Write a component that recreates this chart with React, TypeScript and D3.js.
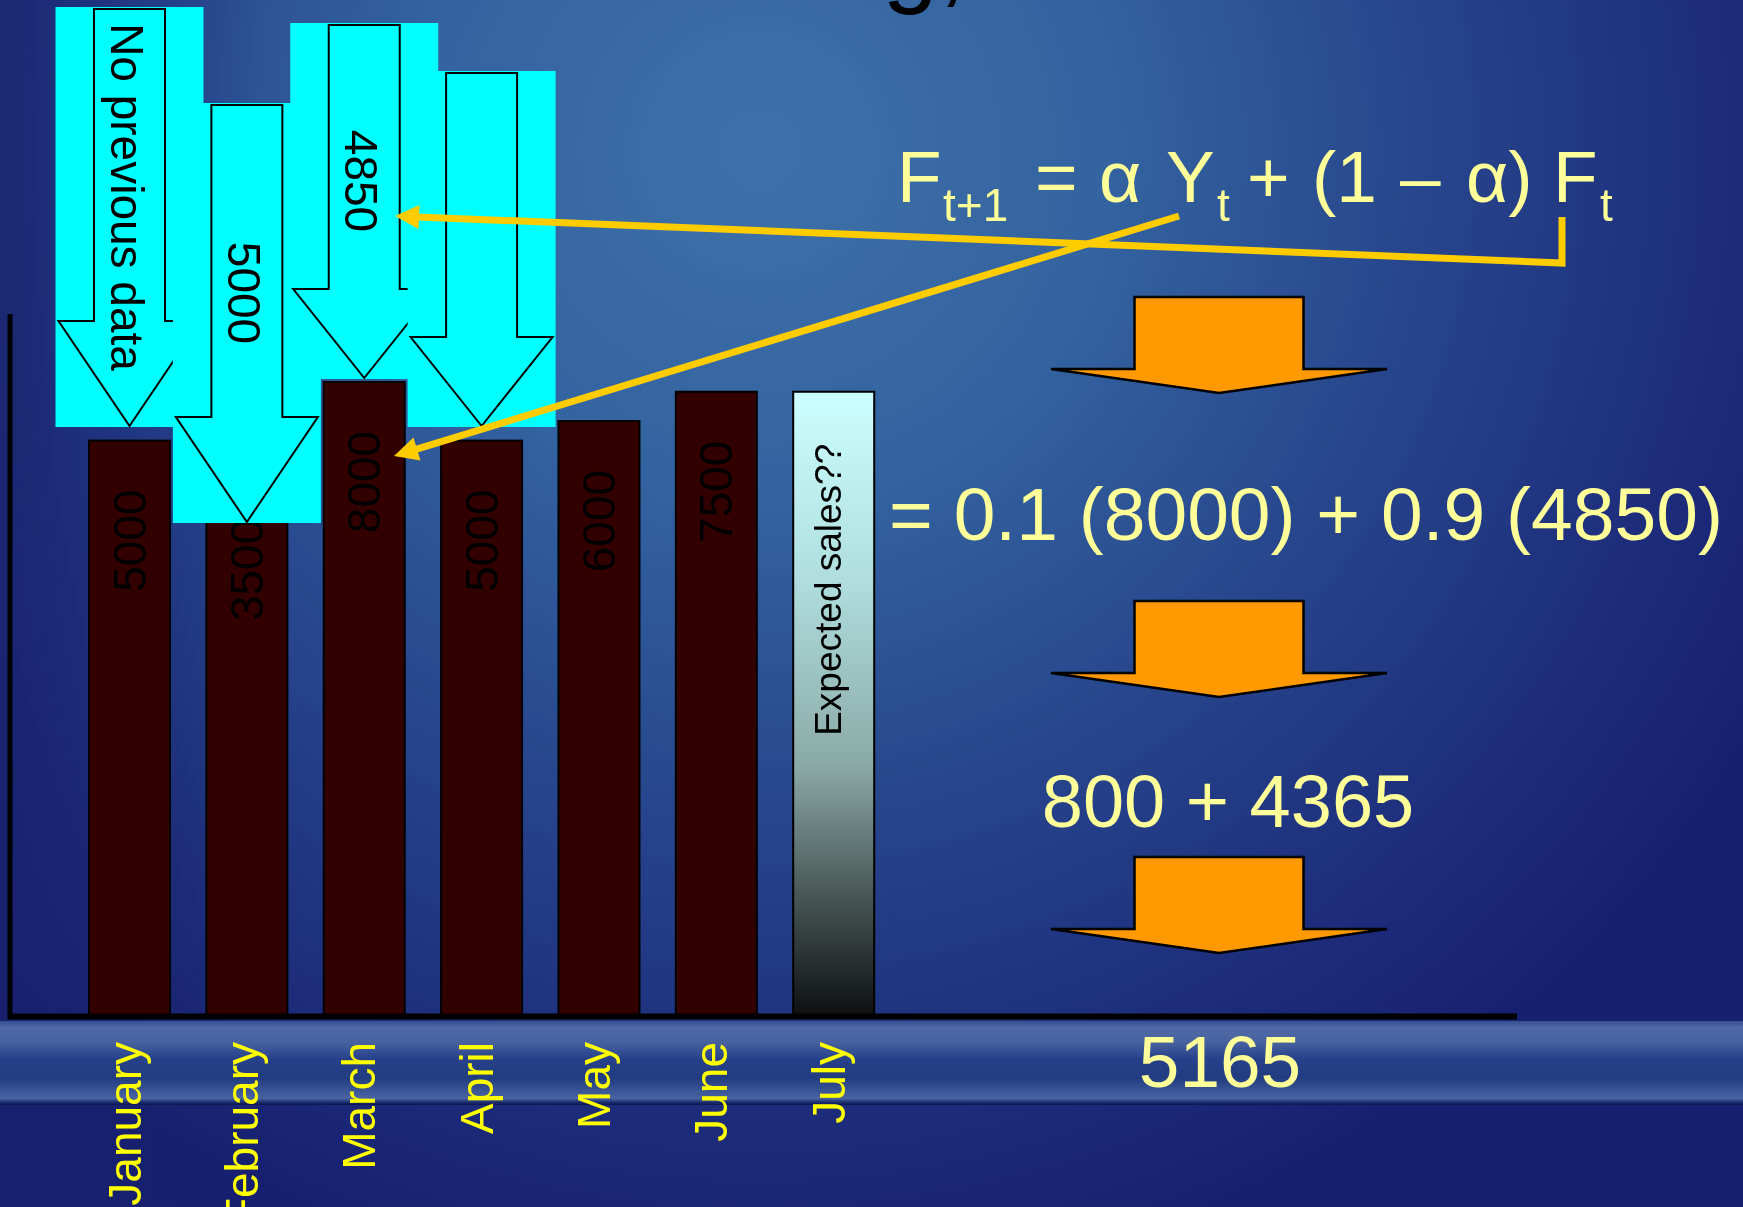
import React, { useEffect } from "react";
import * as d3 from "d3";

// ---------- data ----------
const months = ["January", "February", "March", "April", "May", "June", "July"];
const salesMonths = ["January", "February", "March", "April", "May", "June"];
const sales = [5000, 3500, 8000, 5000, 6000, 7500];
const expectedMonth = "July";
const expectedPlaceholder = 7500;
const expectedLabel = "Expected sales??";
const forecastMonths = ["January", "February", "March", "April"];
const forecastLabels = ["No previous data", "5000", "4850", ""];
const calcSteps = ["= 0.1 (8000) + 0.9 (4850)", "800 + 4365", "5165"];
const titleText = "Smoothing,";

// ---------- layout ----------
const W = 1743;
const H = 1207;
const FONT = "'Liberation Sans', Arial, Helvetica, sans-serif";
const BASE_Y = 1015;
const BAR_W = 81;
const BOX_TOP = [7, 103, 23, 71];
const BOX_BOTTOM = [427, 523, 379, 427];
const ORANGE_TOP = [297, 601, 857];
const YELLOW = "#ffcc00";
const TEXT_Y = "#ffff99";

function headPoly(fx: number, fy: number, tx: number, ty: number, len: number, hw: number) {
  const dx = tx - fx, dy = ty - fy;
  const L = Math.hypot(dx, dy);
  const ux = dx / L, uy = dy / L;
  const bx = tx - ux * len, by = ty - uy * len;
  const px = -uy, py = ux;
  return {
    pts: `${tx},${ty} ${bx + px * hw},${by + py * hw} ${bx - px * hw},${by - py * hw}`,
    bx: tx - ux * (len - 2),
    by: ty - uy * (len - 2),
  };
}

export default function App() {
  useEffect(() => {
    document.body.style.margin = "0";
    document.body.style.overflow = "hidden";
  }, []);

  const x = d3.scalePoint<string>().domain(months).range([129.5, 833.7]);
  const y = d3.scaleLinear().domain([-24400, 8000]).range([BASE_Y, 382]);

  // yellow arrows
  const aStart: [number, number] = [1562, 217];
  const aCorner: [number, number] = [1562, 263];
  const aTip: [number, number] = [395, 216];
  const hA = headPoly(aCorner[0], aCorner[1], aTip[0], aTip[1], 24, 12);
  const bStart: [number, number] = [1179, 216];
  const bTip: [number, number] = [394, 456];
  const hB = headPoly(bStart[0], bStart[1], bTip[0], bTip[1], 24, 12);

  return (
    <svg
      width={W}
      height={H}
      viewBox={`0 0 ${W} ${H}`}
      style={{ position: "fixed", left: 0, top: 0, display: "block" }}
      fontFamily={FONT}
    >
      <defs>
        <radialGradient id="bg" gradientUnits="userSpaceOnUse" cx={760} cy={150} r={1150}>
          <stop offset="0" stopColor="#3e71a9" />
          <stop offset="0.3" stopColor="#3363a0" />
          <stop offset="0.6" stopColor="#26438b" />
          <stop offset="0.85" stopColor="#1c2b7a" />
          <stop offset="1" stopColor="#172070" />
        </radialGradient>
        <linearGradient id="leftShade" x1="0" x2="1" y1="0" y2="0">
          <stop offset="0" stopColor="#18216e" stopOpacity="0.75" />
          <stop offset="1" stopColor="#18216e" stopOpacity="0" />
        </linearGradient>
        <linearGradient id="band" x1="0" x2="0" y1="0" y2="1">
          <stop offset="0" stopColor="#34508f" />
          <stop offset="0.08" stopColor="#5068a6" />
          <stop offset="0.25" stopColor="#4862a0" />
          <stop offset="0.45" stopColor="#26418a" />
          <stop offset="0.68" stopColor="#213c80" />
          <stop offset="0.84" stopColor="#3c5797" />
          <stop offset="0.92" stopColor="#4a64a2" />
          <stop offset="0.97" stopColor="#1a2b6c" />
          <stop offset="1" stopColor="#0b1450" />
        </linearGradient>
        <linearGradient id="july" x1="0" x2="0" y1="0" y2="1">
          <stop offset="0" stopColor="#ccffff" />
          <stop offset="0.3" stopColor="#b0dede" />
          <stop offset="0.6" stopColor="#8aa9a6" />
          <stop offset="0.8" stopColor="#4a5a58" />
          <stop offset="1" stopColor="#0e1010" />
        </linearGradient>
      </defs>

      {/* background */}
      <rect x={0} y={0} width={W} height={H} fill="url(#bg)" />
      <rect x={0} y={0} width={260} height={H} fill="url(#leftShade)" />
      <rect x={0} y={1021} width={W} height={84} fill="url(#band)" />

      {/* title fragment (mostly above the frame) */}
      <text x={966} y={-6} fontSize={100} textAnchor="end" fill="#000">
        {titleText}
      </text>

      {/* sales bars */}
      {salesMonths.map((m, i) => (
        <g key={m}>
          <rect
            x={(x(m) as number) - BAR_W / 2}
            y={y(sales[i])}
            width={BAR_W}
            height={BASE_Y - y(sales[i])}
            fill="#330000"
            stroke="#000"
            strokeWidth={2}
          />
          <text
            transform={`translate(${x(m)},${y(sales[i]) + 100}) rotate(-90)`}
            textAnchor="middle"
            dominantBaseline="central"
            fontSize={46}
            fill="#000"
          >
            {String(sales[i])}
          </text>
        </g>
      ))}

      {/* expected bar */}
      <rect
        x={(x(expectedMonth) as number) - BAR_W / 2}
        y={y(expectedPlaceholder)}
        width={BAR_W}
        height={BASE_Y - y(expectedPlaceholder)}
        fill="url(#july)"
        stroke="#000"
        strokeWidth={2}
      />
      <text
        transform={`translate(${(x(expectedMonth) as number) - 5},${y(expectedPlaceholder) + 198}) rotate(-90)`}
        textAnchor="middle"
        dominantBaseline="central"
        fontSize={37}
        fill="#000"
      >
        {expectedLabel}
      </text>

      {/* axes */}
      <line x1={10} x2={10} y1={314} y2={1019} stroke="#000" strokeWidth={5} />
      <line x1={8} x2={1517} y1={1016.5} y2={1016.5} stroke="#000" strokeWidth={6} />

      {/* forecast boxes with down arrows */}
      {forecastMonths.map((m, i) => {
        const cx = x(m) as number;
        const top = BOX_TOP[i];
        const bot = BOX_BOTTOM[i];
        const sTop = top + 2;
        const tip = bot - 1;
        const hTop = tip - 0.25 * (bot - top);
        const sw = 35.5;
        const hw = 71;
        const d = `M${cx - sw},${sTop} H${cx + sw} V${hTop} H${cx + hw} L${cx},${tip} L${cx - hw},${hTop} H${cx - sw} Z`;
        const textCy = (top + bot) / 2 - 20;
        return (
          <g key={m}>
            <rect x={cx - 74} y={top} width={148} height={bot - top} fill="#00ffff" />
            <path d={d} fill="none" stroke="#000" strokeWidth={2} />
            {forecastLabels[i] && (
              <text
                transform={`translate(${cx - 3},${textCy}) rotate(90)`}
                textAnchor="middle"
                dominantBaseline="central"
                fontSize={46}
                fill="#000"
              >
                {forecastLabels[i]}
              </text>
            )}
          </g>
        );
      })}

      {/* month labels */}
      {months.map((m) => (
        <text
          key={m}
          transform={`translate(${(x(m) as number) - 5},1042) rotate(-90)`}
          textAnchor="end"
          dominantBaseline="central"
          fontSize={46}
          fill="#ffff00"
        >
          {m}
        </text>
      ))}

      {/* formula */}
      <text y={202} fontSize={73} fill={TEXT_Y}>
        <tspan x={897}>F</tspan>
        <tspan x={943} dy={19} fontSize={46}>t+1</tspan>
        <tspan x={1035} dy={-19}>=</tspan>
        <tspan x={1099}>α</tspan>
        <tspan x={1166}>Y</tspan>
        <tspan x={1217} dy={19} fontSize={46}>t</tspan>
        <tspan x={1247} dy={-19}>+</tspan>
        <tspan x={1312}>(1</tspan>
        <tspan x={1400}>–</tspan>
        <tspan x={1466}>α)</tspan>
        <tspan x={1553}>F</tspan>
        <tspan x={1600} dy={19} fontSize={46}>t</tspan>
      </text>

      {/* calculation steps */}
      <text x={889} y={540} fontSize={75} fill={TEXT_Y}>{calcSteps[0]}</text>
      <text x={1228} y={827} fontSize={74} textAnchor="middle" fill={TEXT_Y}>{calcSteps[1]}</text>
      <text x={1220} y={1087} fontSize={73} textAnchor="middle" fill={TEXT_Y}>{calcSteps[2]}</text>

      {/* orange block arrows */}
      {ORANGE_TOP.map((t, i) => {
        const cx = 1219;
        const hTop = t + 72;
        const tip = hTop + 24;
        const d = `M${cx - 84.5},${t} H${cx + 84.5} V${hTop} H${cx + 168} L${cx},${tip} L${cx - 168},${hTop} H${cx - 84.5} Z`;
        return <path key={i} d={d} fill="#ff9900" stroke="#000" strokeWidth={2.5} strokeLinejoin="miter" />;
      })}

      {/* yellow connector arrows */}
      <path
        d={`M${aStart[0]},${aStart[1]} L${aCorner[0]},${aCorner[1]} L${hA.bx},${hA.by}`}
        fill="none"
        stroke={YELLOW}
        strokeWidth={7}
        strokeLinejoin="miter"
      />
      <polygon points={hA.pts} fill={YELLOW} />
      <path
        d={`M${bStart[0]},${bStart[1]} L${hB.bx},${hB.by}`}
        fill="none"
        stroke={YELLOW}
        strokeWidth={7}
      />
      <polygon points={hB.pts} fill={YELLOW} />
    </svg>
  );
}
